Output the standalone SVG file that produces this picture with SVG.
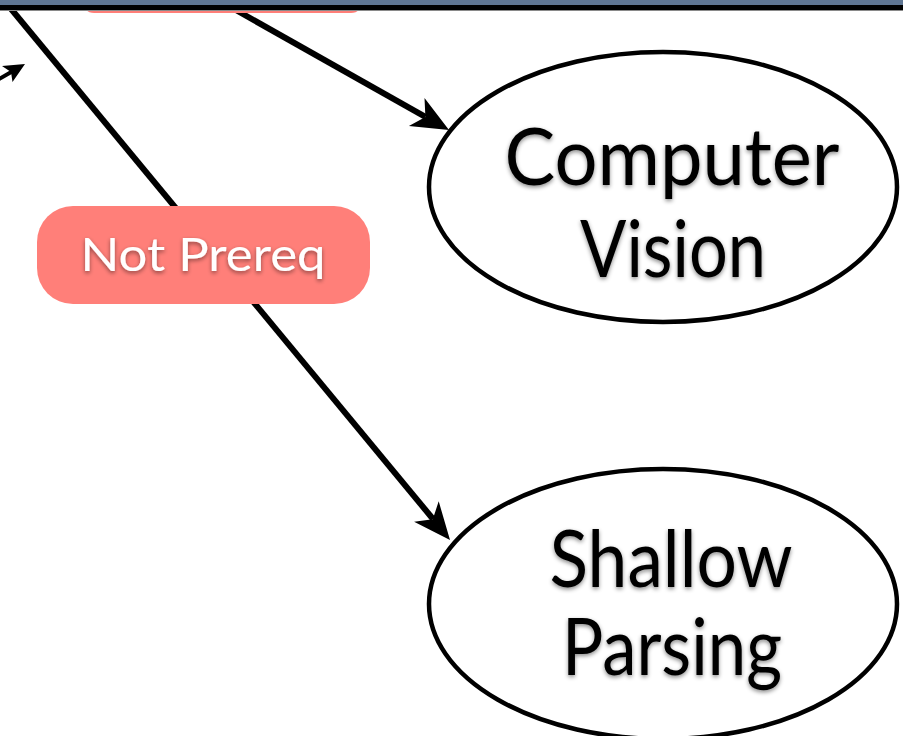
<svg xmlns="http://www.w3.org/2000/svg" width="903" height="736" viewBox="0 0 903 736">
  <defs>
    <filter id="shadow" x="-10%" y="-10%" width="120%" height="130%">
      <feDropShadow dx="0" dy="2" stdDeviation="2" flood-color="#000" flood-opacity="0.45"/>
    </filter>
  </defs>
  <style>
    .edge { stroke: #000; stroke-width: 6; fill: none; }
    .head { fill: #000; }
    .node ellipse { fill: #fff; stroke: #000; stroke-width: 4.5; }
    .node text { font-family: "Lato", "Open Sans", sans-serif; font-size: 80px; fill: #000; text-anchor: middle; filter: url(#shadow); }
    .label rect { fill: #FF7F79; }
    .label text { font-family: "Lato", "Open Sans", sans-serif; font-size: 47px; fill: #fff; text-anchor: middle; filter: url(#shadow); }
  </style>
  <rect x="0" y="0" width="903" height="736" fill="#fff"/>

  <g id="connectors">
    <line class="edge" x1="7" y1="4" x2="433" y2="519"/>
    <path class="head" d="M450,540 L438.7,501.3 L432.8,519.2 L414.1,521.7 Z"/>
    <line class="edge" x1="227" y1="5" x2="425.4" y2="116.9"/>
    <path class="head" d="M449,130 L424.5,98 L425.4,116.9 L408.9,126 Z"/>
    <line class="edge" x1="-20" y1="90" x2="13" y2="71" style="stroke-width:4"/>
    <path class="head" d="M25,64 L2,66 L11,72 L12.5,82 Z"/>
  </g>

  <g id="label-top" class="label">
    <rect x="82" y="-80" width="281" height="93" rx="12"/>
  </g>

  <g id="top-bar">
    <rect x="0" y="0" width="903" height="6" fill="#5F7693"/>
    <rect x="0" y="5" width="903" height="5" fill="#000"/>
    <rect x="0" y="10" width="903" height="1" fill="#8A8A8A"/>
  </g>

  <g id="label-not-prereq" class="label">
    <rect x="37" y="206" width="333" height="98" rx="36"/>
    <text x="203" y="271" textLength="245" lengthAdjust="spacingAndGlyphs">Not Prereq</text>
  </g>

  <g id="node-computer-vision" class="node">
    <ellipse cx="663" cy="187" rx="234" ry="135"/>
    <text x="672" y="185" textLength="335" lengthAdjust="spacingAndGlyphs">Computer</text>
    <text x="673" y="277" textLength="186" lengthAdjust="spacingAndGlyphs">Vision</text>
  </g>

  <g id="node-shallow-parsing" class="node">
    <ellipse cx="663" cy="604" rx="234" ry="135"/>
    <text x="671" y="587" textLength="243" lengthAdjust="spacingAndGlyphs">Shallow</text>
    <text x="672" y="675" textLength="220" lengthAdjust="spacingAndGlyphs">Parsing</text>
  </g>
</svg>
